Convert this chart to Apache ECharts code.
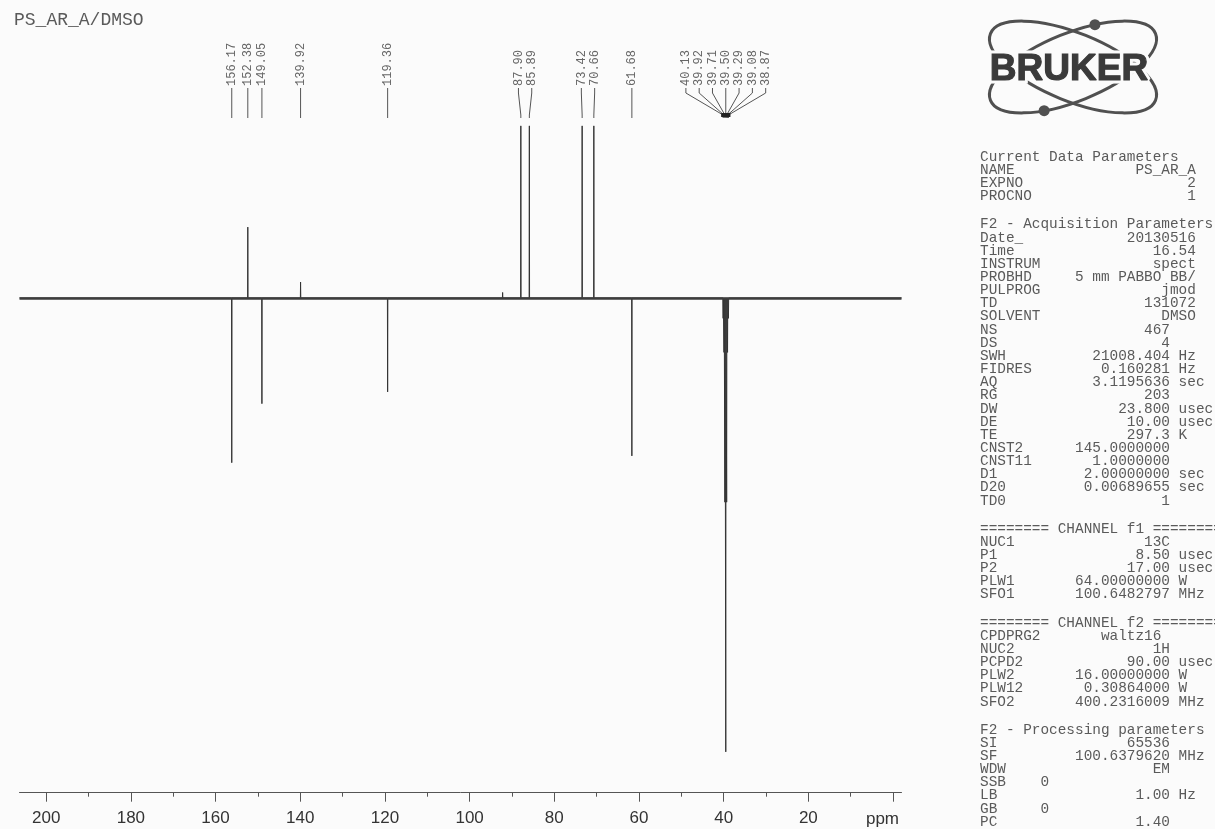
<!DOCTYPE html>
<html><head><meta charset="utf-8">
<script src="https://cdn.jsdelivr.net/npm/echarts@6/dist/echarts.min.js"></script>
<style>html,body{margin:0;padding:0;background:#fbfbfb}#c{width:1215px;height:829px}</style>
</head><body><div id="c"></div>
<script>
// ---------------- data ----------------
const sampleTitle = 'PS_AR_A/DMSO';
// labelled peaks (ppm) and their JMOD intensities (arbitrary units, DMSO centre line = -100)
const peakShifts = [156.17, 152.38, 149.05, 139.92, 119.36, 87.90, 85.89, 73.42, 70.66, 61.68,
                    40.13, 39.92, 39.71, 39.50, 39.29, 39.08, 38.87];
const peakIntensities = [-36.3, 15.6, -23.3, 3.5, -20.7, 37.9, 37.9, 37.9, 37.9, -34.8,
                    -4.5, -12, -45, -100, -45, -12, -4.5];
// small unlabelled signal
const minorShifts = [92.2];
const minorIntensities = [1.2];
// axis
const axisRange = [-2, 206.3];
const majorTickValues = [0, 20, 40, 60, 80, 100, 120, 140, 160, 180, 200];
const tickLabelValues = [20, 40, 60, 80, 100, 120, 140, 160, 180, 200];
const minorTickValues = [10, 30, 50, 70, 90, 110, 130, 150, 170, 190];
const axisUnit = 'ppm';
// parameter listing: [key, value, unit, column]
const paramSections = [
  ['Current Data Parameters', [['NAME','PS_AR_A'],['EXPNO','2'],['PROCNO','1']]],
  ['F2 - Acquisition Parameters', [['Date_','20130516'],['Time','16.54'],['INSTRUM','spect'],
    ['PROBHD','5 mm PABBO BB/'],['PULPROG','jmod'],['TD','131072'],['SOLVENT','DMSO'],
    ['NS','467','',22],['DS','4','',22],['SWH','21008.404','Hz',22],['FIDRES','0.160281','Hz',22],
    ['AQ','3.1195636','sec',22],['RG','203','',22],['DW','23.800','usec',22],['DE','10.00','usec',22],
    ['TE','297.3','K',22],['CNST2','145.0000000','',22],['CNST11','1.0000000','',22],
    ['D1','2.00000000','sec',22],['D20','0.00689655','sec',22],['TD0','1','',22]]],
  ['======== CHANNEL f1 ========', [['NUC1','13C','',22],['P1','8.50','usec',22],['P2','17.00','usec',22],
    ['PLW1','64.00000000','W',22],['SFO1','100.6482797','MHz',22]]],
  ['======== CHANNEL f2 ========', [['CPDPRG2','waltz16','',21],['NUC2','1H','',22],['PCPD2','90.00','usec',22],
    ['PLW2','16.00000000','W',22],['PLW12','0.30864000','W',22],['SFO2','400.2316009','MHz',22]]],
  ['F2 - Processing parameters', [['SI','65536','',22],['SF','100.6379620','MHz',22],['WDW','EM','',22],
    ['SSB','0','',8],['LB','1.00','Hz',22],['GB','0','',8],['PC','1.40','',22]]]
];

// ---------------- build spectrum from peak lists ----------------
const HW = 0.05;
const allLines = peakShifts.map((p, i) => ({p, h: peakIntensities[i]}))
  .concat(minorShifts.map((p, i) => ({p, h: minorIntensities[i]})))
  .sort((a, b) => b.p - a.p);
const spectrum = [[axisRange[1], 0]];
allLines.forEach(l => { spectrum.push([l.p + HW, 0], [l.p, l.h], [l.p - HW, 0]); });
spectrum.push([axisRange[0], 0]);

// ---------------- layout constants ----------------
const LABEL_Y = 86, CONV_Y = 115, LABEL_GAP = 13.3;
const PAR_X = 980, PAR_Y0 = 157, PAR_LH = 13.15, PAR_GAP = 15;
const GREY = '#5a5a5a';
const BG = '#fbfbfb';

function spreadLabels(px, gap) {
  const order = px.map((x, i) => i).sort((a, b) => px[a] - px[b]);
  let clusters = order.map(i => ({ids: [i]}));
  const start = c => { const m = c.ids.reduce((s, i) => s + px[i], 0) / c.ids.length; return m - (c.ids.length - 1) / 2 * gap; };
  let merged = true;
  while (merged) {
    merged = false;
    for (let k = 0; k < clusters.length - 1; k++) {
      const a = clusters[k], b = clusters[k + 1];
      const endA = start(a) + (a.ids.length - 1) * gap;
      if (start(b) - endA < gap - 1e-6) {
        clusters.splice(k, 2, {ids: a.ids.concat(b.ids)});
        merged = true; break;
      }
    }
  }
  const out = [];
  clusters.forEach(c => { const s = start(c); c.ids.forEach((id, j) => out[id] = s + j * gap); });
  return out;
}

function pad(key, val, unit, col) {
  let s = key;
  const target = (col || 25) - val.length;
  while (s.length < target) s += ' ';
  s += val;
  if (unit) s += ' ' + unit;
  return s;
}
const graphics = [];
let yy = PAR_Y0;
paramSections.forEach((sec, si) => {
  if (si > 0) yy += PAR_GAP;
  const rows = [sec[0]].concat(sec[1].map(r => pad(r[0], r[1], r[2], r[3])));
  rows.forEach(t => {
    graphics.push({type: 'text', id: 'p' + graphics.length, x: PAR_X, y: yy, silent: true,
      style: {text: t, font: '14.4px "Liberation Mono"', fill: GREY, align: 'left', verticalAlign: 'middle'}});
    yy += PAR_LH;
  });
});
// title
graphics.push({type: 'text', id: 'title', x: 14, y: 20,
  style: {text: sampleTitle, font: '18px "Liberation Mono"', fill: GREY, align: 'left', verticalAlign: 'middle'}});
// Bruker logo: two tilted orbits, two electrons, word mark
const LX = 1073, LY = 67, RX = 89, RY = 34, TH = 22 * Math.PI / 180;
[TH, -TH].forEach((r, k) => graphics.push({type: 'ellipse', id: 'orb' + k, x: LX, y: LY, rotation: r,
  shape: {cx: 0, cy: 0, rx: RX, ry: RY}, style: {fill: null, stroke: '#505050', lineWidth: 3}}));
function orbPoint(theta, tDeg) {
  const t = tDeg * Math.PI / 180;
  const ex = RX * Math.cos(t), ey = RY * Math.sin(t);
  const mx = ex * Math.cos(theta) - ey * Math.sin(theta);
  const my = ex * Math.sin(theta) + ey * Math.cos(theta);
  return [LX + mx, LY - my];
}
[orbPoint(TH, 66), orbPoint(TH, 241)].forEach((d, k) => graphics.push({type: 'circle', id: 'dot' + k,
  shape: {cx: d[0], cy: d[1], r: 5.5}, style: {fill: '#505050'}}));
graphics.push({type: 'text', id: 'brukerMask', x: LX - 4, y: LY + 3,
  style: {text: 'BRUKER', font: 'bold 37px "Liberation Sans"', fill: BG, align: 'center', verticalAlign: 'middle',
    stroke: BG, lineWidth: 7}});
graphics.push({type: 'text', id: 'bruker', x: LX - 4, y: LY + 3,
  style: {text: 'BRUKER', font: 'bold 37px "Liberation Sans"', fill: '#3a3a3a', align: 'center', verticalAlign: 'middle',
    stroke: '#3a3a3a', lineWidth: 1.2}});

// ---------------- chart ----------------
const chart = echarts.init(document.getElementById('c'), null, {renderer: 'canvas'});
let labelCache = null;
const option = {
  backgroundColor: BG,
  animation: false,
  grid: {left: 19.5, right: 313.5, top: 100, bottom: 36.3},
  xAxis: [{
    type: 'value', inverse: true, min: axisRange[0], max: axisRange[1],
    axisLine: {onZero: false, lineStyle: {color: '#555', width: 1}},
    axisTick: {length: 9, lineStyle: {color: '#555'}, customValues: majorTickValues},
    axisLabel: {customValues: tickLabelValues, margin: 17, color: '#333', fontSize: 17, fontFamily: 'Liberation Sans'},
    splitLine: {show: false}
  }, {
    type: 'value', inverse: true, min: axisRange[0], max: axisRange[1], position: 'bottom',
    axisLine: {show: false, onZero: false},
    axisTick: {length: 4, lineStyle: {color: '#555'}, customValues: minorTickValues},
    axisLabel: {show: false}, splitLine: {show: false}
  }],
  yAxis: {type: 'value', show: false, min: -109, max: 43.6, splitLine: {show: false}},
  series: [{
    type: 'line', data: spectrum, showSymbol: false, symbol: 'none', silent: true,
    lineStyle: {color: '#333', width: 1}, clip: false,
    markLine: {silent: true, symbol: 'none', label: {show: false},
      lineStyle: {color: '#3d3d3d', width: 2.6, type: 'solid'}, data: [{yAxis: 0}]}
  }, {
    type: 'custom', silent: true, clip: false,
    data: peakShifts.map((p, i) => [p, peakIntensities[i]]),
    renderItem: function (params, api) {
      const i = params.dataIndex;
      if (!labelCache) {
        const px = peakShifts.map(p => api.coord([p, 0])[0]);
        labelCache = {px, lx: spreadLabels(px, LABEL_GAP)};
      }
      const x0 = labelCache.px[i], x1 = labelCache.lx[i];
      const ch = [
        {type: 'polyline', shape: {points: [[x1, LABEL_Y + 2], [x1, LABEL_Y + 7], [x0, CONV_Y], [x0, CONV_Y + 3]]},
          style: {stroke: '#555', lineWidth: 1, fill: null}},
        {type: 'text', x: x1, y: LABEL_Y, rotation: Math.PI / 2,
          style: {text: peakShifts[i].toFixed(2), font: '12px "Liberation Mono"', fill: '#666', align: 'left', verticalAlign: 'middle'}}
      ];
      if (Math.abs(x1 - x0) > 8) ch.push({type: 'rect', shape: {x: x0 - 2, y: CONV_Y - 2, width: 4, height: 4}, style: {fill: '#222'}});
      return {type: 'group', children: ch};
    }
  }],
  graphic: {elements: graphics}
};
chart.setOption(option);
const p0 = chart.convertToPixel({xAxisIndex: 0}, 0);
chart.setOption({graphic: {elements: [{type: 'text', id: 'unit', x: p0 + 6, y: 819,
  style: {text: axisUnit, font: '17px "Liberation Sans"', fill: '#333', align: 'right', verticalAlign: 'middle'}}]}});
</script></body></html>
